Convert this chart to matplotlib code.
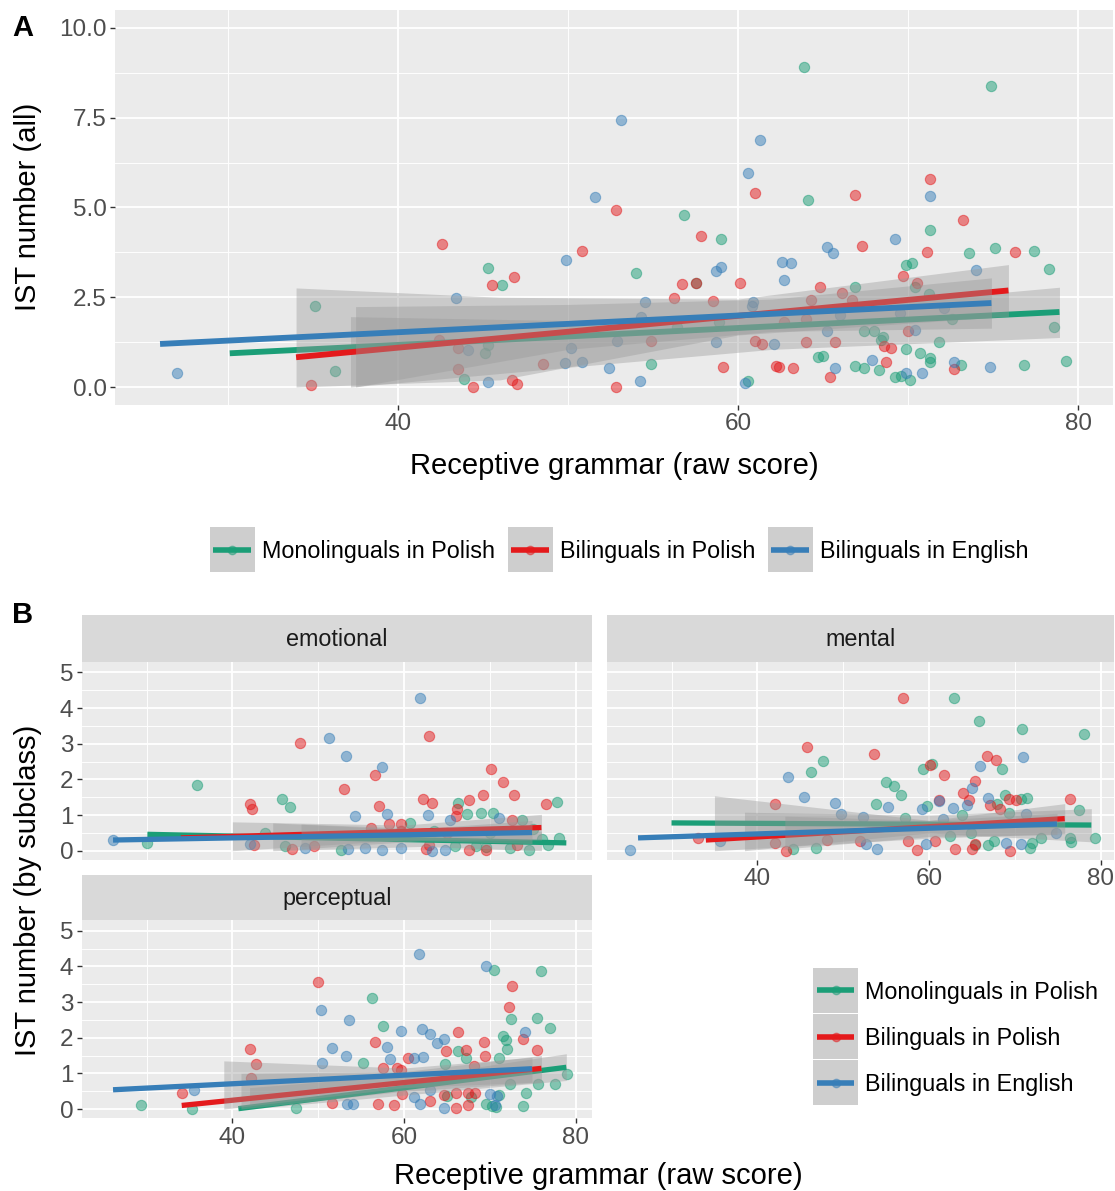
import numpy as np
import matplotlib
matplotlib.use('Agg')
import matplotlib.pyplot as plt
from matplotlib.patches import Rectangle
from matplotlib.lines import Line2D

plt.rcParams['font.family'] = ['Liberation Sans', 'DejaVu Sans']

# ---------------- data ----------------
groups = ['Monolinguals in Polish', 'Bilinguals in Polish', 'Bilinguals in English']
colors = ['#1B9E77', '#E41A1C', '#377EB8']

# Panel A : IST number (all)
A_mono_x = [35.1,36.3,45.3,46.1,43.9,45.1,45.3,54.9,56.8,59.0,54.0,57.5,63.9,64.1,71.3,74.9,73.6,75.1,77.4,78.3,
            66.9,69.9,70.2,70.4,78.6,60.6,64.7,65.0,66.9,67.4,67.4,68.0,68.5,68.4,68.3,69.9,70.7,71.3,71.3,71.8,
            69.2,69.6,70.1,73.1,76.8,79.3,71.2,72.6,58.9,56.4]
A_mono_y = [2.26,0.45,3.31,2.83,0.22,0.95,1.17,0.65,4.78,4.11,3.17,2.91,8.92,5.20,4.36,8.38,3.72,3.88,3.79,3.29,
            2.78,3.41,3.45,2.78,1.66,0.16,0.85,0.86,0.58,0.52,1.56,1.56,1.40,1.30,0.47,1.05,0.96,0.82,0.71,1.26,
            0.28,0.31,0.20,0.61,0.62,0.72,2.60,1.90,1.82,1.68]
A_bipl_x = [34.9,42.6,45.5,46.8,43.5,44.4,46.7,47.0,48.5,50.8,42.4,43.5,52.8,57.8,56.7,57.5,56.2,58.5,60.1,61.0,
            66.9,71.3,73.2,67.3,71.1,76.3,64.8,69.7,70.5,52.8,54.9,59.1,61.0,61.4,62.2,62.4,63.2,64.0,65.7,65.4,
            68.6,69.0,68.7,70.0,72.7,66.1,66.7,64.3,64.0,62.7]
A_bipl_y = [0.05,3.97,2.84,3.07,0.50,0.00,0.19,0.09,0.65,3.79,1.31,1.08,4.93,4.22,2.87,2.91,2.47,2.41,2.91,5.41,
            5.36,5.78,4.66,3.93,3.77,3.75,2.79,3.09,2.91,0.00,1.28,0.56,1.28,1.19,0.59,0.55,0.53,1.26,1.26,0.28,
            1.13,1.09,0.71,1.57,0.50,2.62,2.43,2.43,1.90,1.82]
A_bien_x = [27.0,43.4,45.3,49.8,50.8,49.9,51.6,44.1,50.2,52.4,53.1,54.5,58.7,59.0,60.6,61.3,71.3,69.2,74.0,65.2,
            65.6,62.6,63.1,62.7,54.2,52.9,58.7,60.4,62.1,65.7,65.2,67.9,69.9,70.8,70.4,72.7,74.8,60.9,60.8,69.5,
            72.1,66.0,54.3]
A_bien_y = [0.40,2.49,0.15,0.67,0.69,3.55,5.30,1.03,1.10,0.54,7.43,2.36,3.22,3.33,5.95,6.88,5.31,4.13,3.25,3.91,
            3.72,3.48,3.46,2.99,0.17,1.29,1.26,0.10,1.20,0.54,1.56,0.74,0.38,0.38,1.59,0.69,0.56,2.38,2.25,2.06,
            2.20,2.00,1.96]
# fitted lines [x_start, y_start, x_end, y_end]
A_fit_mono = [30.1, 0.94, 78.9, 2.09]
A_fit_bipl = [34.0, 0.83, 75.9, 2.69]
A_fit_bien = [26.0, 1.20, 74.9, 2.34]
# confidence bands (x, lower, upper)
A_band_mono = ([37.2, 50, 62, 78.9], [0, 0.55, 1.05, 1.38], [1.96, 1.85, 2.05, 2.78])
A_band_bipl = ([34.0, 46, 60, 75.9], [0, 0.2, 1.45, 1.97], [2.76, 2.5, 2.45, 3.41])
A_band_bien = ([37.5, 50, 62, 74.9], [0, 1.05, 1.55, 1.64], [2.24, 2.3, 2.45, 3.04])

# Panel B : emotional
E_mono_x = [35.9,66.3,77.8,45.8,46.7,67.3,69.0,70.4,73.7,60.7,43.8,76.1,78.0,30.1,46.1,52.6,65.9,68.4,69.6,72.3,74.5,76.8,56.0,63.5,70.0,75.0]
E_mono_y = [1.84,1.35,1.37,1.46,1.23,1.02,1.06,1.06,0.87,0.77,0.49,0.34,0.37,0.21,0.13,0.02,0.13,0.13,0.10,0.08,0.02,0.15,0.45,0.55,0.50,0.60]
E_bipl_x = [62.9,47.9,56.6,53.0,70.1,71.5,72.8,69.2,67.6,66.2,76.5,62.2,63.2,42.1,42.3,57.1,66.0,72.6,58.2,59.7,56.2,42.5,47.0,49.5,62.5,62.9,67.6,69.5,73.1,59.6,65.0]
E_bipl_y = [3.22,3.02,2.11,1.72,2.30,1.93,1.55,1.56,1.43,1.17,1.31,1.46,1.35,1.30,1.18,1.25,0.96,0.87,0.74,0.74,0.63,0.16,0.04,0.12,0.04,0.16,0.03,0.02,0.15,0.55,0.50]
E_bien_x = [61.9,51.2,53.2,57.4,54.3,58.0,62.8,71.1,65.3,42.1,48.5,53.5,55.4,57.4,59.6,63.2,64.8,26.1]
E_bien_y = [4.27,3.17,2.67,2.35,0.97,1.03,1.00,0.92,0.86,0.20,0.08,0.04,0.08,0.02,0.08,0.00,0.03,0.30]
E_fit_mono = [30.1, 0.46, 78.9, 0.22]
E_fit_bipl = [34.0, 0.36, 76.0, 0.65]
E_fit_bien = [26.1, 0.30, 74.9, 0.51]
E_band_mono = ([44.7, 62, 76.0], [0, 0.12, 0.0], [0.78, 0.58, 0.55])
E_band_bipl = ([40.0, 60, 76.0], [0, 0.3, 0.3], [0.81, 0.72, 1.02])
E_band_bien = ([48.0, 62, 74.9], [0.05, 0.28, 0.2], [0.75, 0.62, 0.85])

# Panel B : mental
M_mono_x = [62.9,65.8,70.8,78.0,47.6,46.2,59.3,60.3,68.5,55.0,55.9,56.7,53.8,59.8,67.9,68.9,70.7,71.4,77.5,69.3,63.8,57.2,
            44.1,46.8,65.4,66.9,67.6,71.7,72.0,73.0,76.4,76.5,79.3,62.4,64.9]
M_mono_y = [4.27,3.63,3.40,3.28,2.52,2.22,2.28,2.44,2.30,1.93,1.82,1.56,1.31,1.26,1.32,1.56,1.46,1.48,1.14,1.06,1.00,0.93,
            0.04,0.07,0.17,0.17,0.26,0.07,0.22,0.35,0.35,0.24,0.36,0.40,0.50]
M_bipl_x = [57.0,45.8,53.6,60.1,66.8,67.8,61.7,65.3,42.1,61.1,64.0,64.6,67.1,68.3,69.3,70.1,76.4,33.1,42.0,43.3,48.1,51.9,
            57.5,58.6,60.7,63.0,65.0,65.3,69.4]
M_bipl_y = [4.27,2.90,2.71,2.39,2.67,2.53,2.13,1.95,1.30,1.42,1.62,1.42,1.27,1.16,1.46,1.42,1.44,0.36,0.21,0.00,0.30,0.28,
            0.26,0.03,0.28,0.05,0.05,0.19,0.00]
M_bien_x = [25.2,43.6,65.9,70.9,65.0,45.4,49.1,49.8,55.2,59.2,61.1,62.8,64.4,66.9,71.3,61.6,52.3,35.7,52.6,53.9,59.6,69.0,70.7,74.8]
M_bien_y = [0.01,2.07,2.37,2.63,1.77,1.50,1.35,1.04,1.23,1.18,1.40,1.20,1.27,1.48,1.04,0.90,0.95,0.28,0.19,0.05,0.19,0.22,0.19,0.49]
M_fit_mono = [30.0, 0.78, 78.9, 0.72]
M_fit_bipl = [34.0, 0.30, 75.8, 0.90]
M_fit_bien = [26.1, 0.36, 74.9, 0.75]
M_band_mono = ([38.5, 60, 78.9], [0, 0.5, 0.25], [1.08, 1.0, 1.18])
M_band_bipl = ([35.0, 60, 75.8], [0, 0.35, 0.48], [1.54, 0.85, 1.32])
M_band_bien = ([43.2, 60, 74.9], [0.05, 0.4, 0.45], [0.97, 0.85, 1.05])

# Panel B : perceptual
P_mono_x = [70.5,76.0,56.3,72.5,75.5,77.0,57.6,71.5,71.9,72.0,55.2,66.3,67.2,64.8,71.1,75.6,77.6,79.0,72.3,29.4,35.3,47.4,
            65.0,67.8,69.6,70.2,70.7,71.1,73.9,74.2]
P_mono_y = [3.89,3.86,3.10,2.52,2.54,2.26,2.33,2.05,1.93,1.67,1.28,1.62,1.43,1.27,1.43,0.71,0.71,0.98,0.70,0.10,0.00,0.03,
            0.36,0.33,0.15,0.09,0.07,0.38,0.09,0.45]
P_bipl_x = [50.0,72.6,72.2,66.3,73.8,75.5,56.6,67.2,69.3,69.4,42.1,42.8,60.4,64.9,68.2,59.2,59.7,57.6,42.2,34.1,51.6,57.0,
            58.8,59.8,63.0,64.6,66.0,66.0,67.4,68.3,67.5]
P_bipl_y = [3.56,3.44,2.85,2.17,1.97,1.66,1.89,1.66,1.88,1.48,1.68,1.26,1.43,1.62,1.21,1.16,1.10,1.14,0.86,0.45,0.17,0.14,
            0.12,0.42,0.23,0.38,0.03,0.45,0.45,0.45,0.10]
P_bien_x = [61.7,69.6,50.3,53.6,59.7,62.1,63.0,74.1,58.0,51.6,53.2,63.8,64.6,50.4,58.4,61.1,62.2,35.5,53.4,54.1,61.2,61.8,
            63.0,64.6,70.0,70.8,70.6]
P_bien_y = [4.34,4.00,2.77,2.51,2.20,2.23,2.10,2.17,1.73,1.70,1.50,1.84,1.95,1.30,1.41,1.43,1.45,0.54,0.14,0.15,0.34,0.14,
            0.52,0.03,0.41,0.36,0.12]
P_fit_mono = [40.7, 0.01, 78.9, 1.17]
P_fit_bipl = [34.1, 0.10, 76.0, 1.14]
P_fit_bien = [26.1, 0.54, 74.9, 1.13]
P_band_mono = ([42.0, 65, 78.9], [0, 0.5, 0.8], [0.6, 1.05, 1.55])
P_band_bipl = ([41.0, 60, 76.0], [0, 0.5, 0.75], [1.0, 1.05, 1.5])
P_band_bien = ([39.0, 60, 74.9], [0.0, 0.6, 0.75], [1.35, 1.15, 1.45])

# ---------------- figure ----------------
W, H = 1115, 1191
fig = plt.figure(figsize=(W / 100, H / 100), dpi=100)

def rect(l, t, r, b):
    return [l / W, 1 - b / H, (r - l) / W, (b - t) / H]

TICK_FS = 17.5
TITLE_FS = 21
LEG_FS = 16.8

def style(ax, xlim, ylim, xt, xmin, yt, ymin, ytl=None, showx=True, showy=True):
    ax.set_facecolor('#EBEBEB')
    for s in ax.spines.values():
        s.set_visible(False)
    ax.set_xlim(xlim)
    ax.set_ylim(ylim)
    ax.set_xticks(xt)
    ax.set_xticks(xmin, minor=True)
    ax.set_yticks(yt)
    ax.set_yticks(ymin, minor=True)
    if ytl is not None:
        ax.set_yticklabels(ytl)
    ax.grid(which='major', color='white', lw=1.3)
    ax.grid(which='minor', color='white', lw=0.65)
    ax.set_axisbelow(True)
    ax.tick_params(which='minor', length=0)
    ax.tick_params(which='major', length=3.5, width=1.0, color='#333333',
                   labelsize=TICK_FS, labelcolor='#4D4D4D', pad=2.5)
    if not showx:
        ax.tick_params(axis='x', which='major', length=0, labelbottom=False)
    if not showy:
        ax.tick_params(axis='y', which='major', length=0, labelleft=False)

def draw(ax, xs, ys, fits, bands, lw=4.0):
    for x, y, c in zip(xs, ys, colors):
        ax.scatter(x, y, s=55, color=c, alpha=0.5, edgecolors=c, linewidths=0.8, zorder=2)
    for f, b, c in zip(fits, bands, colors):
        bx, blo, bhi = b
        ax.fill_between(bx, blo, bhi, color='#999999', alpha=0.4, lw=0, zorder=3)
        ax.plot([f[0], f[2]], [f[1], f[3]], color=c, lw=lw, solid_capstyle='butt', zorder=3)

# Panel A
axA = fig.add_axes(rect(115, 10, 1113, 405))
style(axA, (23.35, 82.05), (-0.5, 10.5), [40, 60, 80], [30, 50, 70],
      [0, 2.5, 5, 7.5, 10], [1.25, 3.75, 6.25, 8.75], ytl=['0.0', '2.5', '5.0', '7.5', '10.0'])
draw(axA, [A_mono_x, A_bipl_x, A_bien_x], [A_mono_y, A_bipl_y, A_bien_y],
     [A_fit_mono, A_fit_bipl, A_fit_bien], [A_band_mono, A_band_bipl, A_band_bien], lw=4.2)

# Panel B facets
PX = 8.585
def bx(l, r):
    return (22.45, 22.45 + (r - l) / PX)
BY = (-0.26, 5.30)
byt = [0, 1, 2, 3, 4, 5]
bym = [0.5, 1.5, 2.5, 3.5, 4.5]

def strip(l, t, r, b, label):
    sa = fig.add_axes(rect(l, t, r, b))
    sa.set_facecolor('#D9D9D9')
    for s in sa.spines.values():
        s.set_visible(False)
    sa.set_xticks([]); sa.set_yticks([])
    sa.text(0.5, 0.48, label, ha='center', va='center', fontsize=LEG_FS, color='#1A1A1A',
            transform=sa.transAxes)

axE = fig.add_axes(rect(81.7, 661.7, 591.7, 860))
style(axE, bx(81.7, 591.7), BY, [40, 60, 80], [30, 50, 70], byt, bym, showx=False)
draw(axE, [E_mono_x, E_bipl_x, E_bien_x], [E_mono_y, E_bipl_y, E_bien_y],
     [E_fit_mono, E_fit_bipl, E_fit_bien], [E_band_mono, E_band_bipl, E_band_bien], lw=3.8)
strip(81.7, 615, 591.7, 661.7, 'emotional')

axM = fig.add_axes(rect(606.7, 661.7, 1114, 860))
style(axM, bx(606.7, 1114), BY, [40, 60, 80], [30, 50, 70], byt, bym, showy=False)
draw(axM, [M_mono_x, M_bipl_x, M_bien_x], [M_mono_y, M_bipl_y, M_bien_y],
     [M_fit_mono, M_fit_bipl, M_fit_bien], [M_band_mono, M_band_bipl, M_band_bien], lw=3.8)
strip(606.7, 615, 1114, 661.7, 'mental')

axP = fig.add_axes(rect(81.7, 920, 591.7, 1118.3))
style(axP, bx(81.7, 591.7), BY, [40, 60, 80], [30, 50, 70], byt, bym)
draw(axP, [P_mono_x, P_bipl_x, P_bien_x], [P_mono_y, P_bipl_y, P_bien_y],
     [P_fit_mono, P_fit_bipl, P_fit_bien], [P_band_mono, P_band_bipl, P_band_bien], lw=3.8)
strip(81.7, 875, 591.7, 920, 'perceptual')

# titles / labels
fig.text(23 / W, 1 - 28 / H, 'A', fontsize=21, fontweight='bold', ha='center', va='center')
fig.text(23 / W, 1 - 615 / H, 'B', fontsize=21, fontweight='bold', ha='center', va='center')
fig.text(614 / W, 1 - 466 / H, 'Receptive grammar (raw score)', fontsize=TITLE_FS, ha='center', va='center')
fig.text(28 / W, 1 - 207 / H, 'IST number (all)', fontsize=TITLE_FS, ha='center', va='center', rotation=90)
fig.text(598 / W, 1 - 1176 / H, 'Receptive grammar (raw score)', fontsize=TITLE_FS, ha='center', va='center')
fig.text(28 / W, 1 - 890 / H, 'IST number (by subclass)', fontsize=TITLE_FS, ha='center', va='center', rotation=90)

# legends: ggplot-like keys (grey square, coloured line, faint point)
class KeyHandler:
    def legend_artist(self, legend, orig_handle, fontsize, handlebox):
        c = orig_handle.get_color()
        w = handlebox.width
        side = 45 * 72 / 100.0           # key square side in points
        x0 = -handlebox.xdescent
        cy = 0.36 * fontsize             # vertical centre of the label text
        tr = handlebox.get_transform()
        r = Rectangle((x0, cy - side / 2), w, side, facecolor='#CECECE',
                      edgecolor='none', transform=tr)
        m = Line2D([x0 + w / 2], [cy], ls='none', marker='o', ms=6, mfc=c, mec=c,
                   alpha=0.5, transform=tr)
        ln = Line2D([x0 + 0.08 * w, x0 + 0.92 * w], [cy, cy], color=c, lw=4,
                    solid_capstyle='butt', transform=tr)
        for a in (r, m, ln):
            handlebox.add_artist(a)
        return r

def handles():
    return [Line2D([], [], color=c) for c in colors]

key_w = 45 / (LEG_FS * 100 / 72)
key_h = (45 * 72 / 100 / LEG_FS - 0.245) / 0.65
fig.legend(handles(), groups, handler_map={Line2D: KeyHandler()},
           loc='center', bbox_to_anchor=(619 / W, 1 - 551 / H), ncol=3, frameon=False,
           fontsize=LEG_FS, handlelength=key_w, handleheight=key_h, handletextpad=0.3,
           columnspacing=0.55, borderpad=0, borderaxespad=0)
fig.legend(handles(), groups, handler_map={Line2D: KeyHandler()},
           loc='upper left', bbox_to_anchor=(813 / W, 1 - 969 / H), ncol=1, frameon=False,
           fontsize=LEG_FS, handlelength=key_w, handleheight=key_h, handletextpad=0.3,
           labelspacing=0.06, borderpad=0, borderaxespad=0)

fig.savefig('out.png', dpi=100, facecolor='white')
